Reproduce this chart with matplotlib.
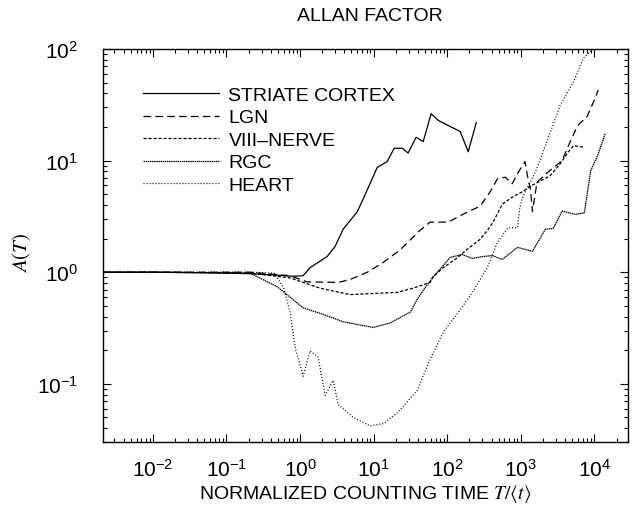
import numpy as np
import matplotlib
matplotlib.use("Agg")
import matplotlib.pyplot as plt
from matplotlib.ticker import FixedLocator, LogLocator, LogFormatterSciNotation, NullFormatter

plt.rcParams['font.family'] = ['Liberation Sans', 'DejaVu Sans']
plt.rcParams['mathtext.fontset'] = 'stix'

# values (T/<t>, A(T))
striate_t = [0.0021, 0.01, 0.05, 0.21, 0.5, 0.8, 1.1, 1.37, 2.33, 2.99, 3.85, 5.97, 7.19,
             11.2, 15.3, 19.0, 24.4, 29.4, 37.8, 47.1, 60.5, 75.5, 150, 193, 248]
striate_a = [1.0, 1.0, 0.99, 0.97, 0.94, 0.92, 0.93, 1.10, 1.38, 1.70, 2.43, 3.47, 4.52,
             8.7, 9.8, 12.9, 12.9, 11.7, 16.2, 14.8, 26.3, 22.9, 18.2, 12.0, 21.9]

lgn_t = [0.0021, 0.01, 0.05, 0.21, 0.73, 1.24, 3.31, 4.79, 8.2, 13.4, 22.8, 42.6, 58.5,
         103, 186, 280, 386, 482, 616, 763, 930, 1140, 1230, 1350, 1440, 1580, 1660,
         2350, 3640, 4440, 5900, 8000, 9800, 11300]
lgn_a = [1.0, 1.0, 1.0, 1.0, 0.93, 0.82, 0.81, 0.86, 1.0, 1.22, 1.58, 2.37, 2.81,
         2.81, 3.45, 3.9, 5.3, 6.9, 7.1, 6.2, 7.9, 9.8, 7.3, 5.6, 3.5, 5.2, 6.4,
         7.9, 10.0, 13.6, 20.5, 25, 34, 43]

viii_t = [0.0021, 0.01, 0.05, 0.21, 0.73, 1.86, 4.79, 21, 34.5, 58.5, 64, 88, 128, 186,
          280, 360, 426, 560, 763, 1070, 1350, 1720, 2490, 3400, 4440, 5200, 7100]
viii_a = [1.0, 1.0, 0.99, 0.98, 0.89, 0.72, 0.63, 0.66, 0.72, 0.81, 0.91, 1.10, 1.30, 1.60,
          1.97, 2.42, 2.86, 4.07, 4.7, 5.3, 5.9, 6.4, 7.3, 9.3, 12.0, 13.6, 13.2]

rgc_t = [0.0021, 0.01, 0.05, 0.21, 0.49, 1.1, 2.04, 3.85, 9.8, 16.6, 31.6, 39, 48, 64,
         110, 160, 220, 300, 410, 560, 900, 1440, 2150, 2750, 3640, 5500, 7300, 8900,
         11000, 14000]
rgc_a = [1.0, 1.0, 0.99, 0.98, 0.74, 0.48, 0.42, 0.36, 0.32, 0.35, 0.44, 0.57, 0.70, 0.90,
         1.36, 1.44, 1.33, 1.38, 1.41, 1.30, 1.67, 1.54, 2.42, 2.47, 3.53, 3.3, 3.4, 8.1,
         11.0, 17.4]

heart_t = [0.0021, 0.01, 0.05, 0.21, 0.45, 0.6, 0.73, 0.86, 1.10, 1.37, 1.76, 2.19, 2.82,
           3.3, 5.3, 8.9, 13.5, 21, 39, 58, 88, 150, 220, 350, 480, 670, 900, 970, 1070,
           1580, 2350, 3400, 5200, 7100, 9300, 12000]
heart_a = [1.0, 1.0, 1.0, 1.0, 0.98, 0.72, 0.44, 0.21, 0.117, 0.197, 0.174, 0.079, 0.107,
           0.065, 0.050, 0.042, 0.044, 0.055, 0.087, 0.163, 0.29, 0.46, 0.66, 1.10, 1.85,
           2.5, 2.5, 3.8, 4.8, 7.9, 15.8, 31, 51, 83, 98, 125]

labels = ['STRIATE CORTEX', 'LGN', 'VIII\u2013NERVE', 'RGC', 'HEART']
x_major = [1e-2, 1e-1, 1e0, 1e1, 1e2, 1e3, 1e4]
y_major = [1e-1, 1e0, 1e1, 1e2]

fig = plt.figure(figsize=(6.32, 5.10), dpi=100)
ax = fig.add_axes([0.163, 0.131, 0.831, 0.771])

lw = 0.9
ax.plot(striate_t, striate_a, color='black', lw=lw, label=labels[0])
ax.plot(lgn_t, lgn_a, color='black', lw=lw, dashes=(6, 3.5), label=labels[1])
ax.plot(viii_t, viii_a, color='black', lw=lw, dashes=(2.5, 1.5), label=labels[2])
ax.plot(rgc_t, rgc_a, color='black', lw=lw, dashes=(1.2, 0.5), label=labels[3])
ax.plot(heart_t, heart_a, color='black', lw=lw, dashes=(0.8, 1.6), label=labels[4])

ax.set_xscale('log')
ax.set_yscale('log')
ax.set_xlim(0.0021, 28800)
ax.set_ylim(0.03, 100)

ax.xaxis.set_major_locator(FixedLocator(x_major))
ax.yaxis.set_major_locator(FixedLocator(y_major))
ax.xaxis.set_minor_locator(LogLocator(base=10, subs=np.arange(2, 10), numticks=20))
ax.yaxis.set_minor_locator(LogLocator(base=10, subs=np.arange(2, 10), numticks=20))
ax.xaxis.set_major_formatter(LogFormatterSciNotation())
ax.yaxis.set_major_formatter(LogFormatterSciNotation())
ax.xaxis.set_minor_formatter(NullFormatter())
ax.yaxis.set_minor_formatter(NullFormatter())

ax.tick_params(which='both', direction='in', top=True, right=True, width=0.8)
ax.tick_params(which='major', length=6)
ax.tick_params(which='minor', length=3)
ax.tick_params(axis='x', which='major', labelsize=15, pad=11)
ax.tick_params(axis='y', which='major', labelsize=15, pad=18)
for s in ax.spines.values():
    s.set_linewidth(1.0)

ax.legend(loc='upper left', bbox_to_anchor=(0.076, 0.905), frameon=False,
          fontsize=14, handlelength=3.9, handletextpad=0.5, labelspacing=0.25,
          borderpad=0, borderaxespad=0)

fig.text(0.585, 0.968, 'ALLAN FACTOR', ha='center', va='center', fontsize=14)
ax.set_xlabel(r'NORMALIZED COUNTING TIME $T/\langle t\rangle$', fontsize=14, labelpad=2)
fig.text(0.035, 0.505, r'$A(T)$', rotation=90, ha='center', va='center', fontsize=15)

fig.savefig('out.png', dpi=100)
